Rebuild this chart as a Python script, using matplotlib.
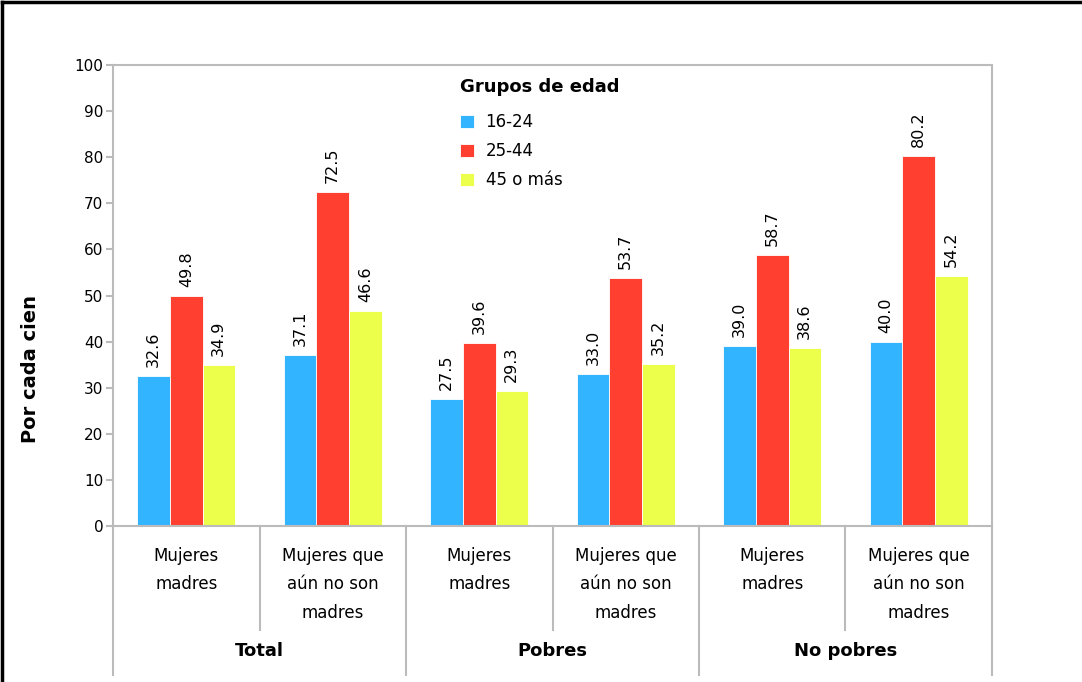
import numpy as np
import matplotlib.pyplot as plt
import matplotlib.transforms as mtransforms

plt.rcParams['font.family'] = ['DejaVu Sans']

# Datos
grupos = ['Total', 'Pobres', 'No pobres']
categorias = ['Mujeres\nmadres', 'Mujeres que\naún no son\nmadres'] * 3
edades = ['16-24', '25-44', '45 o más']
v_16_24 = [32.6, 37.1, 27.5, 33.0, 39.0, 40.0]
v_25_44 = [49.8, 72.5, 39.6, 53.7, 58.7, 80.2]
v_45_mas = [34.9, 46.6, 29.3, 35.2, 38.6, 54.2]
colores = ['#33B4FF', '#FF3F2F', '#EBFF4B']

fig = plt.figure(figsize=(10.82, 6.82), dpi=100)
ax = fig.add_axes([113/1082, 1 - 526/682, 879/1082, 461/682])

x = np.arange(len(categorias))
ancho = 0.222
series = [v_16_24, v_25_44, v_45_mas]
for i, (vals, col, lab) in enumerate(zip(series, colores, edades)):
    pos = x + (i - 1) * ancho
    ax.bar(pos, vals, width=ancho, color=col, label=lab,
           edgecolor='white', linewidth=0.6)
    for xb, v in zip(pos, vals):
        ax.annotate(f'{v:.1f}', (xb, v), xytext=(0, 6.5), textcoords='offset points',
                    rotation=90, ha='center', va='bottom', fontsize=11.5)

ax.set_xlim(-0.5, len(categorias) - 0.5)
ax.set_ylim(0, 100)
ax.set_yticks(range(0, 101, 10))
ax.tick_params(axis='y', labelsize=11, length=5, color='#BBBBBB', width=1.5, pad=2)
ax.set_xticks([])
for s in ax.spines.values():
    s.set_color('#BBBBBB')
    s.set_linewidth(1.5)
ax.set_ylabel('Por cada cien', fontsize=14, fontweight='bold')
ax.yaxis.set_label_coords(-0.083, 0.34)

# Ejes de categorías de dos niveles
tr = mtransforms.blended_transform_factory(ax.transData, ax.transAxes)
for k in range(len(categorias) + 1):
    xs = k - 0.5
    fondo = -0.323 if k % 2 == 0 else -0.226
    ax.plot([xs, xs], [0, fondo], transform=tr, color='#BBBBBB', lw=1.5, clip_on=False)
for k, cat in enumerate(categorias):
    ax.text(k, -0.045, cat, transform=tr, ha='center', va='top', fontsize=12,
            linespacing=1.75)
for g, nombre in enumerate(grupos):
    ax.text(2 * g + 0.5, -0.271, nombre, transform=tr, ha='center', va='center',
            fontsize=13, fontweight='bold')

# Leyenda
ax.text(0.395, 0.952, 'Grupos de edad', transform=ax.transAxes, ha='left',
        va='center', fontsize=13, fontweight='bold')
ax.legend(loc='upper left', bbox_to_anchor=(0.395, 0.896), frameon=False,
          fontsize=12, handlelength=0.8, handleheight=0.8, handletextpad=0.72,
          labelspacing=0.66, borderpad=0, borderaxespad=0)

# Borde de la figura (arriba e izquierda)
fig.add_artist(plt.Line2D([0.002, 1], [0.997, 0.997], color='black', lw=2.5))
fig.add_artist(plt.Line2D([0.002, 0.002], [0, 0.997], color='black', lw=2.5))

fig.savefig('out.png', dpi=100)
